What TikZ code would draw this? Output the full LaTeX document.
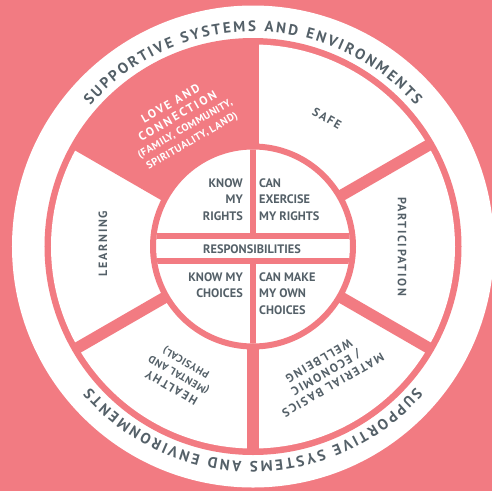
\documentclass[tikz,border=0pt]{standalone}
\usepackage{fontspec}
\setmainfont{PT Sans}
\newfontfamily\ringfont{PT Sans}
\newfontfamily\sectorfont{PT Sans}[LetterSpace=14]
\newfontfamily\widesectorfont{PT Sans}[LetterSpace=18]
\newfontfamily\narrowsectorfont{PT Sans}[LetterSpace=5]
\usetikzlibrary{decorations.text}
\definecolor{wheelpink}{RGB}{242,123,130}
\definecolor{wheelgray}{RGB}{84,96,104}
\newcommand\detailfont{\narrowsectorfont\bfseries\fontsize{10.4}{13}\selectfont}
\newcommand\bigsectorfont{\widesectorfont\bfseries\fontsize{12}{12.5}\selectfont}
\newcommand\ringtextfont{\ringfont\bfseries\fontsize{15}{16}\selectfont}

\begin{document}
\begin{tikzpicture}[x=1pt,y=1pt,line join=bevel,
  sectorlabel/.style={text=wheelgray, align=center, inner sep=0pt,
    font=\sectorfont\bfseries\fontsize{12}{14}\selectfont},
  quadlabel/.style={text=wheelgray, inner sep=0pt,
    font=\bfseries\fontsize{12.3}{16.3}\selectfont},
  divider/.style={wheelpink, line width=11.5pt},
  ringtext/.style={font=\ringtextfont, decorate, decoration={text effects along path,
    text={#1}, text align=center, text effects/.cd, text along path,
    characters={text=wheelgray, inner xsep=1.15pt, font=\ringtextfont},
    character widths={inner xsep=1.15pt, font=\ringtextfont}}},
]
\useasboundingbox (-253,-244.5) rectangle (239,246.5);
\clip (-253,-244.5) rectangle (239,246.5);
%%
% Background and rings
\fill[wheelpink] (-253,-244.5) rectangle (239,246.5);
\fill[white] (0,0) circle[radius=241];
\fill[wheelpink] (0,0) circle[radius=208.5];
\fill[white] (0,0) circle[radius=202];
% Sector: love and connection
\fill[wheelpink] (0,0) -- (90:205) arc[start angle=90, end angle=150, radius=205] -- cycle;
% Dividers
\foreach \a in {30,90,...,330}
  \draw[divider] (0,0) -- (\a:205);
% Inner circle
\fill[white] (0,0) circle[radius=100];
\begin{scope}
  \clip (0,0) circle[radius=97];
  \fill[wheelpink] (-100,-17.8) rectangle (100,13.8);
  \fill[white] (-100,-11.8) rectangle (100,7.8);
  \draw[wheelpink, line width=6pt] (0,13.8) -- (0,100);
  \draw[wheelpink, line width=6pt] (0,-17.8) -- (0,-100);
\end{scope}
\draw[wheelpink, line width=6pt] (0,0) circle[radius=100];
%
% Ring text
\path[ringtext=SUPPORTIVE SYSTEMS AND ENVIRONMENTS]
  (170:215) arc[start angle=170, end angle=10, radius=215];
\path[ringtext=SUPPORTIVE SYSTEMS AND ENVIRONMENTS]
  (-10:215) arc[start angle=-10, end angle=-170, radius=215];
%
% Sector labels
\node[sectorlabel, rotate=30, text=white] (love) at (120:143)
  {\bigsectorfont LOVE AND\\\bigsectorfont CONNECTION\\\detailfont (FAMILY, COMMUNITY,\\\detailfont SPIRITUALITY, LAND)};
\node[sectorlabel, rotate=-30] (safe) at (60:148) {SAFE};
\node[sectorlabel, rotate=-90] (participation) at (0:149) {PARTICIPATION};
\node[sectorlabel, rotate=210] (material) at (-60:146) {MATERIAL BASICS\\/ ECONOMIC\\WELLBEING};
\node[sectorlabel, rotate=150] (healthy) at (-120:148)
  {HEALTHY\\\detailfont (MENTAL AND\\\detailfont PHYSICAL)};
\node[sectorlabel, rotate=90] (learning) at (-150,3) {LEARNING};
%
% Quadrant labels (base = last line)
\node[quadlabel, anchor=base east, align=right] (knowrights) at (-10,26.5) {KNOW\\MY\\RIGHTS};
\node[quadlabel, anchor=base west, align=left] (exercise) at (6,26.5) {CAN\\EXERCISE\\MY RIGHTS};
\node[quadlabel, anchor=base] (responsibilities) at (-1,-6.8) {RESPONSIBILITIES};
\node[quadlabel, anchor=base east, align=right] (knowchoices) at (-10,-51.2) {KNOW MY\\CHOICES};
\node[quadlabel, anchor=base west, align=left] (makechoices) at (6,-67.5) {CAN MAKE\\MY OWN\\CHOICES};
\end{tikzpicture}
\end{document}
